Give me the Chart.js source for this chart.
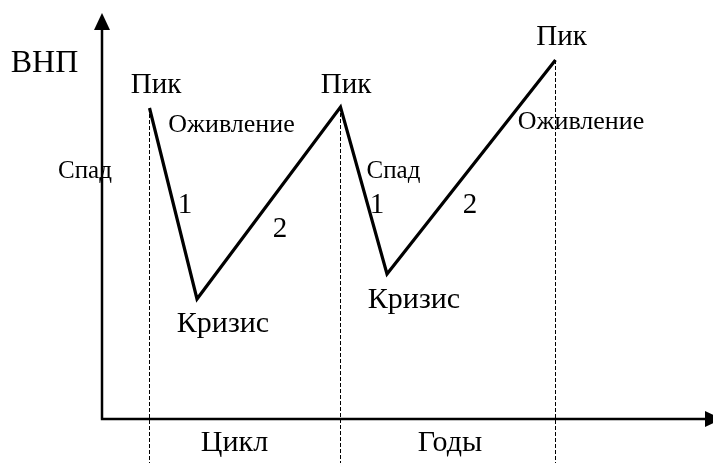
<!DOCTYPE html>
<html>
<head>
<meta charset="utf-8">
<script src="https://cdn.jsdelivr.net/npm/chart.js@4/dist/chart.umd.min.js"></script>
<style>
html,body{margin:0;padding:0;background:#fff;}
#wrap{position:relative;width:713px;height:463px;}
</style>
</head>
<body>
<div id="wrap"><canvas id="c"></canvas></div>
<script>
// ---- data (conceptual business cycle) ----
const phases = ['Пик', 'Кризис', 'Пик', 'Кризис', 'Пик'];
const timeX = [4.75, 9.5, 23.85, 28.5, 45.35];
const gnpY = [31.1, 12.0, 31.2, 14.5, 35.9];
const peakIndex = [0, 2, 4];
const yAxisTitle = 'ВНП';
const xAxisTitles = ['Цикл', 'Годы'];

// ---- text notes (data coordinates) ----
const notes = [
  {t: yAxisTitle, x: -5.75, y: 34.7, s: 32},
  {t: phases[0], x: 5.4, y: 32.6, s: 29},
  {t: phases[2], x: 24.4, y: 32.6, s: 29},
  {t: phases[4], x: 45.95, y: 37.4, s: 29},
  {t: 'Оживление', x: 12.95, y: 28.7, s: 26},
  {t: 'Оживление', x: 47.9, y: 29.0, s: 26},
  {t: 'Спад', x: -1.7, y: 24.1, s: 25},
  {t: 'Спад', x: 29.15, y: 24.1, s: 25},
  {t: '1', x: 8.3, y: 20.6, s: 29},
  {t: '1', x: 27.5, y: 20.6, s: 29},
  {t: '2', x: 17.8, y: 18.2, s: 29},
  {t: '2', x: 36.8, y: 20.6, s: 29},
  {t: phases[1], x: 12.1, y: 8.7, s: 30},
  {t: phases[3], x: 31.2, y: 11.1, s: 30},
  {t: xAxisTitles[0], x: 13.25, y: -3.2, s: 30},
  {t: xAxisTitles[1], x: 34.8, y: -3.2, s: 30}
];

const X_MIN = -10.2, X_MAX = 61.1, Y_MIN = -4.4, Y_MAX = 41.9;

const cycleData = timeX.map((x, i) => ({x: x, y: gnpY[i]}));
const dashSets = peakIndex.map(i => ({
  data: [{x: timeX[i], y: gnpY[i]}, {x: timeX[i], y: Y_MIN}],
  borderColor: '#000', borderWidth: 1, borderDash: [4, 2],
  pointRadius: 0, showLine: true, fill: false
}));

const axesPlugin = {
  id: 'axesArrows',
  afterDatasetsDraw(chart) {
    const ctx = chart.ctx, xs = chart.scales.x, ys = chart.scales.y;
    const ox = xs.getPixelForValue(0), oy = ys.getPixelForValue(0);
    const topY = ys.getPixelForValue(40.6);
    const rightX = xs.getPixelForValue(62.0);
    ctx.save();
    ctx.strokeStyle = '#000'; ctx.fillStyle = '#000'; ctx.lineWidth = 2.5;
    ctx.beginPath();
    ctx.moveTo(ox, oy); ctx.lineTo(ox, topY + 10);
    ctx.moveTo(ox - 1.2, oy); ctx.lineTo(rightX - 10, oy);
    ctx.stroke();
    // y arrow
    ctx.beginPath();
    ctx.moveTo(ox, topY); ctx.lineTo(ox - 8, topY + 17); ctx.lineTo(ox + 8, topY + 17); ctx.closePath(); ctx.fill();
    // x arrow
    ctx.beginPath();
    ctx.moveTo(rightX, oy); ctx.lineTo(rightX - 17, oy - 8); ctx.lineTo(rightX - 17, oy + 8); ctx.closePath(); ctx.fill();
    // notes
    ctx.textAlign = 'center'; ctx.textBaseline = 'alphabetic';
    notes.forEach(n => {
      ctx.font = n.s + 'px "Liberation Serif", "Times New Roman", serif';
      ctx.fillText(n.t, xs.getPixelForValue(n.x), ys.getPixelForValue(n.y));
    });
    ctx.restore();
  }
};

new Chart(document.getElementById('c'), {
  type: 'scatter',
  data: {
    datasets: [
      {data: cycleData, borderColor: '#000', borderWidth: 3.2, pointRadius: 0,
       showLine: true, fill: false, tension: 0, borderJoinStyle: 'miter'},
      ...dashSets
    ]
  },
  options: {
    responsive: true, maintainAspectRatio: false, animation: false,
    layout: {padding: 0},
    plugins: {legend: {display: false}, tooltip: {enabled: false}},
    scales: {
      x: {type: 'linear', min: X_MIN, max: X_MAX, display: false},
      y: {type: 'linear', min: Y_MIN, max: Y_MAX, display: false}
    }
  },
  plugins: [axesPlugin]
});
</script>
</body>
</html>
